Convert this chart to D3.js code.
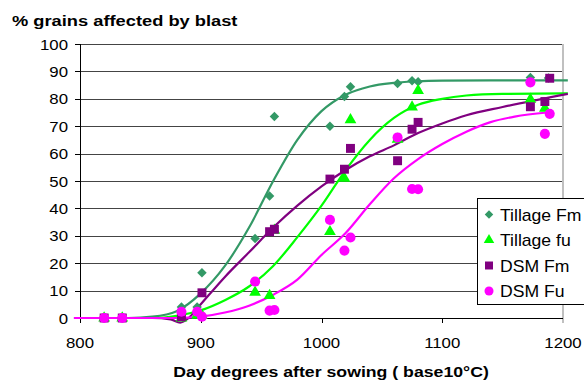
<!DOCTYPE html>
<html lang="en">
<head>
<meta charset="UTF-8" />
<title>Blast</title>
<script src="https://cdn.jsdelivr.net/npm/d3@7"></script>
<style>
  body { margin: 0; background: #fff; }
  text { font-family: "Liberation Sans", Arial, sans-serif; fill: #000; }
</style>
</head>
<body>
<svg width="584" height="381"></svg>
<script>
// tick labels
const xTicks = [800, 900, 1000, 1100, 1200];
const yTicks = [0, 10, 20, 30, 40, 50, 60, 70, 80, 90, 100];

// observed points (day degrees, % grains)
const tillFmX = [820, 835, 884, 897, 901, 945, 957, 961, 1007, 1019, 1024, 1063, 1075, 1080, 1173, 1188];
const tillFmY = [0, 0, 4, 4, 16.5, 29, 44.5, 73.5, 70, 80.8, 84.4, 85.6, 86.6, 86.2, 87.8, 87.6];
const tillFuX = [820, 835, 884, 897, 901, 945, 957, 961, 1007, 1019, 1024, 1063, 1075, 1080, 1173, 1185];
const tillFuY = [0, 0, 0, 1, 1, 9.4, 8.2, 32, 31.5, 51, 72.3, 65.2, 77, 83, 79.8, 76.5];
const dsmFmX = [820, 835, 884, 901, 957, 961, 1007, 1019, 1024, 1063, 1075, 1080, 1173, 1185, 1189];
const dsmFmY = [0, 0, 0.5, 9.2, 31.5, 32.4, 50.7, 54.3, 61.9, 57.4, 68.9, 71.4, 77.1, 79, 87.5];
const dsmFuX = [820, 835, 884, 897, 901, 945, 957, 961, 1007, 1019, 1024, 1063, 1075, 1080, 1173, 1185, 1189];
const dsmFuY = [0, 0, 2.3, 2.3, 0.5, 13.3, 2.7, 2.9, 35.8, 24.6, 29.4, 65.9, 47.1, 47, 86, 67.2, 74.5];

// fitted curves
const tillFmCurveX = [795, 840, 860, 880, 900, 920, 940, 960, 980, 1000, 1020, 1040, 1060, 1080, 1100, 1140, 1204];
const tillFmCurveY = [0, 0, 0.5, 2.5, 9, 19, 33, 50, 65, 75.5, 81.5, 84.5, 85.8, 86.4, 86.6, 86.7, 86.7];
const tillFuCurveX = [795, 860, 880, 900, 920, 940, 960, 980, 1000, 1020, 1040, 1060, 1080, 1100, 1120, 1150, 1204];
const tillFuCurveY = [0, 0, 0.8, 2.8, 6.5, 11.5, 19, 29.5, 41, 54, 65, 73, 77.8, 80, 81.2, 81.8, 82];
const dsmFmCurveX = [795, 860, 875, 883, 890, 900, 920, 940, 960, 980, 1000, 1020, 1040, 1060, 1080, 1100, 1120, 1150, 1204];
const dsmFmCurveY = [0, 0, -0.5, -1.7, 0, 5, 15, 24, 33, 41, 48, 54, 59, 63, 67.5, 71, 74, 77, 81.8];
const dsmFuCurveX = [795, 880, 900, 920, 940, 960, 980, 1000, 1020, 1040, 1060, 1080, 1100, 1120, 1140, 1160, 1187];
const dsmFuCurveY = [0, 0, 0.5, 2, 4.5, 8.5, 14, 23, 31, 41.5, 51, 58, 63.5, 68, 71.5, 73.5, 75];

const seriesNames = ["Tillage Fm", "Tillage fu", "DSM Fm", "DSM Fu"];
const seriesColors = ["#339966", "#00ff00", "#800080", "#ff00ff"];
const seriesShapes = [d3.symbolSquare, d3.symbolTriangle, d3.symbolSquare, d3.symbolCircle];
const shapeSizes = [45, 60, 80, 80];
const shapeRotate = [45, 0, 0, 0];

const svg = d3.select("svg");
const plotLeft = 80, plotRight = 563, plotTop = 44, plotBottom = 318;

const x = d3.scaleLinear().domain([800, 1200]).range([plotLeft, plotRight]);
const y = d3.scaleLinear().domain([0, 100]).range([plotBottom, plotTop]);

// stretched text helper (the original is a little wide)
function label(g, px, py, str, size, anchor, bold, sx) {
    g.append("g")
        .attr("transform", `translate(${px},${py}) scale(${sx},1)`)
        .append("text")
        .attr("text-anchor", anchor)
        .style("font-size", size + "px")
        .style("font-weight", bold ? "bold" : "normal")
        .text(str);
}

// gridlines
svg.append("g").selectAll("line")
    .data(yTicks.filter(d => d > 0))
    .join("line")
    .attr("x1", plotLeft).attr("x2", plotRight)
    .attr("y1", d => Math.round(y(d)) + 0.5).attr("y2", d => Math.round(y(d)) + 0.5)
    .attr("stroke", "#444").attr("stroke-width", 1);

// right border
svg.append("line")
    .attr("x1", plotRight).attr("x2", plotRight).attr("y1", plotTop).attr("y2", plotBottom + 5)
    .attr("stroke", "#c0c0c0").attr("stroke-width", 2);

// axes
const axisG = svg.append("g");
axisG.append("line").attr("x1", plotLeft + 0.5).attr("x2", plotLeft + 0.5).attr("y1", plotTop).attr("y2", plotBottom)
    .attr("stroke", "#000");
axisG.append("line").attr("x1", plotLeft).attr("x2", plotRight).attr("y1", plotBottom + 0.5).attr("y2", plotBottom + 0.5)
    .attr("stroke", "#000");
axisG.selectAll(".yt").data(yTicks).join("line").attr("class", "yt")
    .attr("x1", plotLeft - 5).attr("x2", plotLeft)
    .attr("y1", d => Math.round(y(d)) + 0.5).attr("y2", d => Math.round(y(d)) + 0.5)
    .attr("stroke", "#000");
axisG.selectAll(".xt").data(xTicks.slice(0, -1)).join("line").attr("class", "xt")
    .attr("x1", d => Math.round(x(d)) + 0.5).attr("x2", d => Math.round(x(d)) + 0.5)
    .attr("y1", plotBottom).attr("y2", plotBottom + 5)
    .attr("stroke", "#000");

yTicks.forEach(t => label(svg, 68, y(t) + 5.5, t, 15, "end", false, 1.12));
xTicks.forEach(t => label(svg, x(t), 348, t, 15, "middle", false, 1.12));

label(svg, 12, 26, "% grains affected by blast", 15.5, "start", true, 1.18);
label(svg, 331, 377, "Day degrees after sowing ( base10°C)", 15, "middle", true, 1.18);

// curves
const line = d3.line().x(d => x(d[0])).y(d => y(d[1])).curve(d3.curveMonotoneX);
const curves = [
    d3.zip(tillFmCurveX, tillFmCurveY),
    d3.zip(tillFuCurveX, tillFuCurveY),
    d3.zip(dsmFmCurveX, dsmFmCurveY),
    d3.zip(dsmFuCurveX, dsmFuCurveY)
];
const points = [
    d3.zip(tillFmX, tillFmY),
    d3.zip(tillFuX, tillFuY),
    d3.zip(dsmFmX, dsmFmY),
    d3.zip(dsmFuX, dsmFuY)
];

curves.forEach((c, i) => {
    svg.append("path").datum(c)
        .attr("d", line)
        .attr("fill", "none")
        .attr("stroke", seriesColors[i])
        .attr("stroke-width", 2.2);
});

points.forEach((pts, i) => {
    const sym = d3.symbol().type(seriesShapes[i]).size(shapeSizes[i]);
    svg.append("g").selectAll("path")
        .data(pts)
        .join("path")
        .attr("transform", d => `translate(${x(d[0])},${y(d[1])}) rotate(${shapeRotate[i]})`)
        .attr("d", sym)
        .attr("fill", seriesColors[i]);
});

// legend
const leg = svg.append("g").attr("transform", "translate(477.5,198.5)");
leg.append("rect").attr("width", 130).attr("height", 106)
    .attr("fill", "#fff").attr("stroke", "#000");
seriesNames.forEach((name, i) => {
    const ly = 16 + i * 25.5;
    leg.append("path")
        .attr("transform", `translate(11.5,${ly}) rotate(${shapeRotate[i]})`)
        .attr("d", d3.symbol().type(seriesShapes[i]).size(shapeSizes[i] * 0.8))
        .attr("fill", seriesColors[i]);
    label(leg, 22.5, ly + 6, name, 16, "start", false, 1.1);
});
</script>
</body>
</html>
